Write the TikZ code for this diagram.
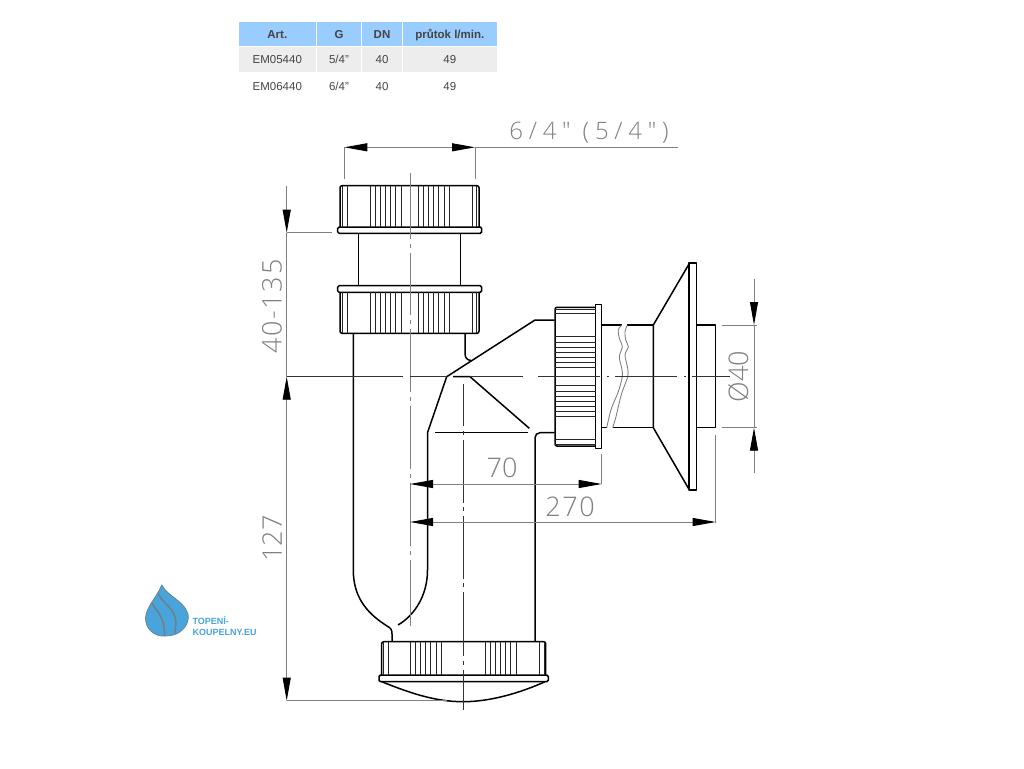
\documentclass[tikz,border=0pt]{standalone}
\usepackage{fontspec}
\setmainfont{Liberation Sans}
\newfontfamily\dimfont[UprightFont=* Light]{Open Sans}
\newfontfamily\dimwide[UprightFont=* Light,LetterSpace=24]{Open Sans}
\newfontfamily\dimspaced[UprightFont=* Light,LetterSpace=6]{Open Sans}
\usetikzlibrary{arrows.meta}
\definecolor{headblue}{HTML}{99CCFF}
\definecolor{rowgray}{HTML}{EDEDED}
\definecolor{celltext}{HTML}{444444}
\definecolor{dimgray}{HTML}{808080}
\definecolor{logoblue}{HTML}{48A4DA}
\definecolor{logoshade}{HTML}{6E7D87}
\newcommand{\ribsv}[3]{\foreach \ribx in {#1} \draw[ribline] (\ribx,#2) -- (\ribx,#3);}
\newcommand{\ribsh}[3]{\foreach \riby in {#1} \draw[ribline] (#2,\riby) -- (#3,\riby);}
\newcommand{\axisv}[2]{\foreach \ya/\yb in {#2} \draw[axisline] (#1,\ya) -- (#1,\yb);}
\newcommand{\axish}[2]{\foreach \xa/\xb in {#2} \draw[axisline] (\xa,#1) -- (\xb,#1);}
\tikzset{
  hdcell/.style={fill=headblue,inner sep=0pt,minimum height=23.4pt,text=celltext,text height=8.5pt,text depth=0pt,font=\fontsize{11.5}{12}\selectfont\bfseries},
  rowcell/.style={fill=rowgray,inner sep=0pt,minimum height=25pt,text=celltext,text height=8.5pt,text depth=0pt,font=\fontsize{11.5}{12}\selectfont},
  plaincell/.style={inner sep=0pt,text=celltext,text height=8.5pt,text depth=0pt,font=\fontsize{11.5}{12}\selectfont},
  partline/.style={draw=black,line width=1.5pt,line join=round},
  ribline/.style={draw=black!85,line width=0.9pt},
  axisline/.style={draw=dimgray,line width=0.9pt},
  dimline/.style={draw=dimgray,line width=0.9pt},
  tiphead/.style={{Triangle[length=23pt,width=8pt,black]}-},
  tiptail/.style={-{Triangle[length=23pt,width=8pt,black]}},
  tipboth/.style={{Triangle[length=23pt,width=8pt,black]}-{Triangle[length=23pt,width=8pt,black]}},
  dimtext/.style={inner sep=0pt,text=dimgray,font=\dimfont\fontsize{27}{27}\selectfont},
  logotext/.style={inner sep=0pt,anchor=west,text=logoblue,font=\fontsize{9}{10}\selectfont\bfseries},
  logoband/.style={fill=logoblue,draw=logoshade,line width=0.7pt},
  logodiv/.style={draw=logoshade,line width=1.4pt}
}
\begin{document}
\begin{tikzpicture}[x=1pt,y=-1pt]
  \useasboundingbox (0,0) rectangle (1024,768);

  \node (hdart) [hdcell,minimum width=76.7pt] at (277.3,34) {Art.};
  \node (hdg) [hdcell,minimum width=44.5pt] at (339,34) {G};
  \node (hddn) [hdcell,minimum width=39.8pt] at (382,34) {DN};
  \node (hdflow) [hdcell,minimum width=93.7pt] at (449.8,34) {průtok l/min.};
  \node (rowaart) [rowcell,minimum width=76.7pt] at (277.3,59.2) {EM05440};
  \node (rowag) [rowcell,minimum width=44.5pt] at (339,59.2) {5/4"};
  \node (rowadn) [rowcell,minimum width=39.8pt] at (382,59.2) {40};
  \node (rowaflow) [rowcell,minimum width=93.7pt] at (449.8,59.2) {49};
  \node (rowbart) [plaincell] at (277.3,86) {EM06440};
  \node (rowbg) [plaincell] at (339,86) {6/4"};
  \node (rowbdn) [plaincell] at (382,86) {40};
  \node (rowbflow) [plaincell] at (449.8,86) {49};

  \draw[partline,rounded corners=2pt] (340,227) -- (340,185.7) -- (479,185.7) -- (479,227);
  \draw[partline,rounded corners=1.5pt] (337.7,227) rectangle (481.7,233.3);
  \ribsv{342.7,347.3,370,375,380,385.3,390.7,395.7,401,418.7,423.3,428.3,433.3,438.3,444,449.3,472.7,476.7}{186}{227}
  \draw[partline] (358.3,233.3) -- (358.3,285.7);
  \draw[partline] (460.7,233.3) -- (460.7,285.7);
  \draw[partline,rounded corners=1.5pt] (337.7,285.7) rectangle (481.7,292.3);
  \draw[partline,rounded corners=2pt] (340,292.3) -- (340,333.3) -- (479,333.3) -- (479,292.3);
  \ribsv{342.7,347.3,370,375,380,385.3,390.7,395.7,401,418.7,423.3,428.3,433.3,438.3,444,449.3,472.7,476.7}{292}{333}

  \draw[partline] (353.3,333.3) -- (353.3,570) .. controls (353.3,600) and (370,615) .. (387,626)
    .. controls (391,628) and (392,630) .. (392,634) -- (392,641.7);
  \draw[partline] (398,625) .. controls (415,615) and (427.5,595) .. (427.5,570) -- (427.5,432.7)
    -- (446.7,376.7) -- (535,320) -- (554.5,320);
  \draw[partline] (465,333.3) -- (465,353) .. controls (465,358) and (467,360) .. (471,360.5);
  \draw[partline] (453,376.7) -- (470,376.7) -- (529.3,428.3);
  \draw[partline] (435,432.7) -- (528,432.7);
  \draw[partline,rounded corners=5pt] (554.5,432.7) -- (535,432.7) -- (535,641.7);

  \draw[partline,rounded corners=2pt] (595.7,307.3) -- (555,307.3) -- (555,446) -- (595.7,446);
  \draw[partline] (595.7,304.3) rectangle (601.7,448.3);
  \ribsh{309.3,313.3,336.7,342.3,347.7,352.7,357.7,362.7,367.3,385.7,391,396,401,406,411,416.3,439.3,444.3}{555}{595.7}

  \draw[partline] (601.7,325) -- (621.7,325);
  \draw[partline] (627.3,325) -- (653.3,325);
  \draw[partline] (601.7,427.7) -- (606.7,427.7);
  \draw[partline] (612.7,427.7) -- (653.3,427.7);
  \draw[dimline,smooth] plot coordinates {(621.7,325) (618.3,330) (619.3,338.3) (622.3,346.7) (619.3,356.7) (621.7,368.3) (622.3,376.7) (618.3,391.7) (612.7,405) (610,413.3) (606.7,427.7)};
  \draw[dimline,smooth] plot coordinates {(627.3,325) (625,331.7) (625.7,340) (628.3,346.7) (625,355) (627.7,368.3) (627.7,376.7) (621.7,393.3) (618.3,406.7) (616,416.7) (612.7,427.7)};
  \draw[partline] (689,264) -- (653.3,325) -- (653.3,427.7) -- (689,489.3);
  \draw[partline] (689,263) rectangle (696.7,490);
  \draw[partline] (696.7,325) -- (715.7,325) -- (715.7,427.7) -- (696.7,427.7);

  \draw[partline,rounded corners=2pt] (381.7,675) -- (381.7,641.7) -- (545.7,641.7) -- (545.7,675);
  \draw[partline,rounded corners=1.5pt] (379,675) rectangle (548.3,681.7);
  \ribsv{383.3,388.3,410.7,415.3,420.7,425.7,430.7,436.3,441.7,485,490,495,500,505,510.3,516.7,539,544}{642}{675}
  \draw[partline] (381.7,681.7) .. controls (410,693) and (435,701.7) .. (463.3,701.7)
    .. controls (490,701.7) and (520,693) .. (545,681.7);

  \axisv{410}{173/239,244/248,253/315,320/324,329/392,397/401,406/469,474/478,483/546,551/555,560/625.7}
  \begin{scope}[axisline/.append style={draw=black!80,line width=0.8pt}]
    \axisv{463.3}{384/426,431/435,440/503,507/511,516/579,583/587,592/656,661/665,670/710}
    \axish{376.7}{287/403,410/447,470/523,538/600,607/609,615/677,684/686,692/730}
  \end{scope}

  \draw[dimline,tipboth] (344.3,147.3) -- (475,147.3);
  \draw[dimline] (475,147.3) -- (678.3,147.3);
  \draw[dimline] (344.3,147.3) -- (344.3,179.3);
  \draw[dimline] (475,147.3) -- (475,179.3);
  \node (dimthread) [dimtext,font=\dimwide\fontsize{24}{24}\selectfont] at (589,132.7) {6/4″ (5/4″)};

  \draw[dimline,tiptail] (286.7,186) -- (286.7,232.7);
  \draw[dimline] (286.7,232.7) -- (286.7,376.7);
  \draw[dimline,tipboth] (286.7,376.7) -- (286.7,700.7);
  \draw[dimline] (286.7,232.7) -- (331.7,232.7);
  \draw[dimline] (286.7,700.7) -- (446.7,700.7);
  \node (dimrise) [dimtext,font=\dimspaced\fontsize{27}{27}\selectfont,rotate=90] at (272,306.5) {40-135};
  \node (dimheight) [dimtext,rotate=90] at (272,538.5) {127};

  \draw[dimline,tipboth] (410,484) -- (601.7,484);
  \draw[dimline] (601.7,454) -- (601.7,484);
  \node (dimnear) [dimtext] at (502,468.3) {70};
  \draw[dimline,tipboth] (410,522) -- (715.7,522);
  \draw[dimline] (715.7,435) -- (715.7,523.3);
  \node (dimfar) [dimtext,font=\dimspaced\fontsize{27}{27}\selectfont] at (570,506.7) {270};

  \draw[dimline,tiptail] (754,279) -- (754,325);
  \draw[dimline] (754,325) -- (754,427.7);
  \draw[dimline,tiphead] (754,427.7) -- (754,473);
  \draw[dimline] (721.7,325) -- (756.7,325);
  \draw[dimline] (721.7,427.7) -- (756.7,427.7);
  \node (dimbore) [dimtext,rotate=90] at (738.3,376.7) {Ø40};

  \draw[logoband] (161.7,585) .. controls (168,597) and (189,603) .. (188.3,618)
    .. controls (188,626) and (180,636) .. (166,636)
    .. controls (153,637) and (145.5,628) .. (145.5,618)
    .. controls (146,607) and (157,597) .. (161.7,585) -- cycle;
  \draw[logodiv] (158.5,594) .. controls (163,604) and (175,608) .. (176,622) -- (175,633);
  \draw[logodiv] (152,603) .. controls (157,612) and (165,617) .. (164.5,636);
  \node (logotop) [logotext] at (192.3,621) {TOPENÍ-};
  \node (logobot) [logotext] at (192.3,632.5) {KOUPELNY.EU};
\end{tikzpicture}
\end{document}
